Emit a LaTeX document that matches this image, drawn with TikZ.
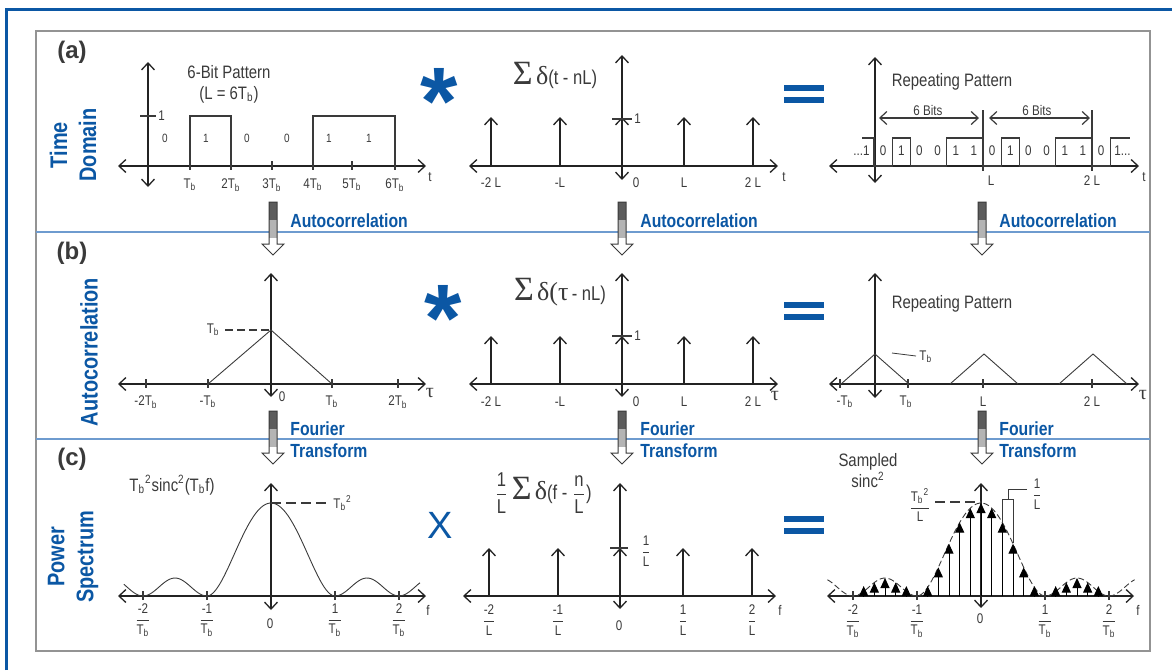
\documentclass[tikz,border=0pt]{standalone}
\usepackage{amsmath}
\usepackage{fontspec}
\setmainfont{Liberation Sans}[FakeStretch=0.83]
\newfontfamily\plainfont{Liberation Sans}
\newfontfamily\grk{Liberation Serif}
\usepackage{tikz}
\usetikzlibrary{arrows.meta}
\definecolor{hpblue}{HTML}{0B57A4}
\definecolor{ink}{HTML}{3A3A3A}
\definecolor{rulebl}{HTML}{6E9BCF}
\definecolor{shaftdk}{HTML}{5C5C5C}
\definecolor{shaftlt}{HTML}{B4B4B4}
\newcommand{\Tb}{T\textsubscript{b}}
\newcommand{\frc}[2]{$\dfrac{\text{#1}}{\text{#2}}$}
% hollow flow arrow: x centre, top
\newcommand{\flowarrow}[2]{%
  \fill[white] (#1-4,#2) -- (#1-4,#2+42) -- (#1-11,#2+42) -- (#1,#2+53) -- (#1+11,#2+42) -- (#1+4,#2+42) -- (#1+4,#2) -- cycle;
  \fill[shaftdk] (#1-4,#2) rectangle (#1+4,#2+18);
  \fill[shaftlt] (#1-4,#2+18) rectangle (#1+4,#2+36);
  \draw[ink, line width=0.5pt] (#1-4,#2) -- (#1-4,#2+42) -- (#1-11,#2+42) -- (#1,#2+53) -- (#1+11,#2+42) -- (#1+4,#2+42) -- (#1+4,#2) -- cycle;}

\begin{document}
\begin{tikzpicture}[x=0.5pt, y=-0.5pt,
  ax/.style={draw=ink!60!black, line width=0.65pt, {Straight Barb[length=3.5pt,width=6.5pt]}-{Straight Barb[length=3.5pt,width=6.5pt]}},
  spike/.style={draw=ink!60!black, line width=0.65pt, -{Straight Barb[length=3.5pt,width=6.5pt]}},
  samp/.style={draw=black, line width=0.5pt, -{Triangle[length=5pt,width=4.5pt]}},
  wave/.style={draw=ink, line width=0.6pt},
  ticklbl/.style={font=\fontsize{7}{8}\selectfont, text=ink, inner sep=1pt},
  bitlbl/.style={font=\fontsize{6}{7}\selectfont, text=ink, inner sep=1pt},
  ttl/.style={font=\fontsize{9}{10.5}\selectfont, text=ink, inner sep=1pt, align=center},
  sidelbl/.style={font=\fontsize{12}{14.5}\selectfont\bfseries, text=hpblue, rotate=90, align=center},
  panel/.style={font=\plainfont\fontsize{12}{14}\selectfont\bfseries, text=ink},
  flowlbl/.style={font=\fontsize{9.5}{11}\selectfont\bfseries, text=hpblue, anchor=west, align=left, inner sep=0pt},
  oplbl/.style={text=hpblue, inner sep=0pt},
  declare function={lobe(\u)=(abs(\u)<1) ? 93*(1-\u*\u)*(1-\u*\u) : 18*sin(180*\u)*sin(180*\u);}
]
\useasboundingbox (0,0) rectangle (1172,670);
% frames
\draw[hpblue, line width=1.5pt] (6,670) -- (6,9) -- (1172,9);
\draw[gray!85, line width=1pt] (36,31) rectangle (1150,651);
\draw[rulebl, line width=0.7pt] (36,232) -- (1150,232);
\draw[rulebl, line width=0.7pt] (36,439) -- (1150,439);
% row labels
\node[panel] (pa) at (72,52) {(a)};
\node[panel] (pb) at (72,253) {(b)};
\node[panel] (pc) at (72,459) {(c)};
\node[sidelbl] (sa) at (73,145) {Time\\Domain};
\node[sidelbl] (sb) at (89,352) {Autocorrelation};
\node[sidelbl] (sc) at (73,557) {Power\\Spectrum};
% operators
\node[oplbl, font=\plainfont\bfseries\fontsize{48}{48}\selectfont] (opa) at (439,101) {*};
\node[oplbl, font=\plainfont\bfseries\fontsize{48}{48}\selectfont] (opb) at (443,318) {*};
\node[oplbl, font=\plainfont\fontsize{19}{19}\selectfont] (opc) at (440,525) {X};
\foreach \y in {88,305,519} {
  \fill[hpblue] (784,\y-3) rectangle (824,\y+3);
  \fill[hpblue] (784,\y+9) rectangle (824,\y+15);
}
% flow arrows
\foreach \x/\lx in {273/290, 622/640, 982/999} {
  \flowarrow{\x}{202}
  \flowarrow{\x}{411}
  \node[flowlbl] (ac\x) at (\lx,221) {Autocorrelation};
  \node[flowlbl] (ft\x) at (\lx,440) {Fourier\\Transform};
}

% (a) 6-bit pattern
\draw[ax] (118,166) -- (426,166);
\draw[ax] (148,187) -- (148,62);
\draw[wave] (140,116) -- (156,116);
\node[ticklbl, anchor=west] (one1) at (156,116) {1};
\foreach \x/\l in {190/\Tb, 231/2\Tb, 272/3\Tb, 313/4\Tb, 352/5\Tb, 395/6\Tb} {
  \draw[wave] (\x,161) -- (\x,170);
  \node[ticklbl] (ta\x) at (\x,185) {\l};
}
\draw[wave] (190,166) -- (190,116) -- (231,116) -- (231,166);
\draw[wave] (313,166) -- (313,116) -- (395,116) -- (395,166);
\foreach \x/\b in {165/0, 206/1, 247/0, 287/0, 329/1, 369/1}
  \node[bitlbl] (ba\x) at (\x,138) {\b};
\node[ttl] (pat) at (229,84) {6-Bit Pattern\\(L = 6\Tb)};
\node[ticklbl] (ta) at (430,177) {t};

% (a) impulse train
\draw[ax] (469,166) -- (778,166);
\draw[ax] (622,180) -- (622,55);
\foreach \x in {491,560,622,684,753}
  \draw[spike] (\x,166) -- (\x,117);
\draw[wave] (612,119) -- (632,119);
\node[ticklbl, anchor=west] (one2) at (632,119) {1};
\foreach \x/\l in {491/-2 L, 560/-L, 684/L, 753/2 L}
  \node[ticklbl] (tm\x) at (\x,183) {\l};
\node[ticklbl] (tm0) at (636,183) {0};
\node[ticklbl] (tt) at (784,177) {t};
\node[ttl, font=\fontsize{10}{11}\selectfont] (suma) at (555,75) {{\grk\fontsize{17}{17}\selectfont Σ}\,{\grk\fontsize{13}{13}\selectfont δ}(t - nL)};

% (a) repeating pattern
\draw[ax] (829,166) -- (1139,166);
\draw[ax] (875,183) -- (875,57);
\draw[wave] (862,138) -- (874,138) -- (874,166)
  -- (892.2,166) -- (892.2,138) -- (910.3,138) -- (910.3,166)
  -- (946.7,166) -- (946.7,138) -- (983,138) -- (983,166)
  -- (1001.2,166) -- (1001.2,138) -- (1019.3,138) -- (1019.3,166)
  -- (1055.7,166) -- (1055.7,138) -- (1092,138) -- (1092,166)
  -- (1110.2,166) -- (1110.2,138) -- (1130,138);
\foreach \i/\b in {0/0,1/1,2/0,3/0,4/1,5/1,6/0,7/1,8/0,9/0,10/1,11/1,12/0}
  \node[bitlbl, font=\fontsize{7}{8}\selectfont] (br\i) at ({874+18.17*(\i+0.5)},151) {\b};
\node[bitlbl, font=\fontsize{7}{8}\selectfont, anchor=east] (brl) at (872,151) {...1};
\node[bitlbl, font=\fontsize{7}{8}\selectfont, anchor=west] (brr) at (1112,151) {1...};
\draw[wave] (983,110) -- (983,171);
\draw[wave] (1092,110) -- (1092,171);
\draw[wave, {Straight Barb[length=3.5pt,width=6.5pt]}-{Straight Barb[length=3.5pt,width=6.5pt]}] (879,118) -- (979,118);
\draw[wave, {Straight Barb[length=3.5pt,width=6.5pt]}-{Straight Barb[length=3.5pt,width=6.5pt]}] (989,118) -- (1090,118);
\node[ticklbl] (bits1) at (928,110) {6 Bits};
\node[ticklbl] (bits2) at (1037,110) {6 Bits};
\node[ticklbl] (tl1) at (991,181) {L};
\node[ticklbl] (tl2) at (1092,181) {2 L};
\node[ticklbl] (tr) at (1144,177) {t};
\node[ttl] (rep1) at (952,82) {Repeating Pattern};

% (b) triangle
\draw[ax] (118,384) -- (426,384);
\draw[ax] (271,397) -- (271,273);
\foreach \x/\l in {146/-2\Tb, 208/-\Tb, 332/\Tb, 398/2\Tb} {
  \draw[wave] (\x,379) -- (\x,388);
  \node[ticklbl] (tb\x) at (\x,402) {\l};
}
\node[ticklbl] (tb0) at (282,397) {0};
\draw[wave, line width=0.45pt] (208,384) -- (271,330) -- (332,384);
\draw[wave, dashed, dash pattern=on 4pt off 2pt] (225,330) -- (271,330);
\node[ticklbl, anchor=east] (tbh) at (222,330) {\Tb};
\node[ticklbl, font=\grk\fontsize{10}{10}\selectfont] (tau1) at (430,393) {τ};

% (b) impulse train
\draw[ax] (469,384) -- (778,384);
\draw[ax] (622,397) -- (622,273);
\foreach \x in {491,560,622,684,753}
  \draw[spike] (\x,384) -- (\x,336);
\draw[wave] (612,336) -- (632,336);
\node[ticklbl, anchor=west] (one3) at (632,336) {1};
\foreach \x/\l in {491/-2 L, 560/-L, 684/L, 753/2 L}
  \node[ticklbl] (tn\x) at (\x,402) {\l};
\node[ticklbl] (tn0) at (636,402) {0};
\node[ticklbl, font=\grk\fontsize{10}{10}\selectfont] (tau2) at (775,396) {τ};
\node[ttl, font=\fontsize{10}{11}\selectfont] (sumb) at (560,292) {{\grk\fontsize{17}{17}\selectfont Σ}\,{\grk\fontsize{13}{13}\selectfont δ(τ}\,- nL)};

% (b) repeating triangles
\draw[ax] (829,384) -- (1139,384);
\draw[ax] (875,398) -- (875,273);
\foreach \c in {875,984,1093}
  \draw[wave, line width=0.45pt] (\c-34,384) -- (\c,354) -- (\c+34,384);
\foreach \x in {840,908,983,1092}
  \draw[wave] (\x,379) -- (\x,388);
\node[ticklbl] (tc1) at (845,402) {-\Tb};
\node[ticklbl] (tc2) at (906,402) {\Tb};
\node[ticklbl] (tc3) at (983,402) {L};
\node[ticklbl] (tc4) at (1092,402) {2 L};
\draw[wave, line width=0.4pt] (892,353) -- (916,356);
\node[ticklbl, anchor=west] (tbr) at (917,357) {\Tb};
\node[ticklbl, font=\grk\fontsize{10}{10}\selectfont] (tau3) at (1143,395) {τ};
\node[ttl] (rep2) at (952,304) {Repeating Pattern};

% (c) sinc squared
\draw[ax] (118,596) -- (426,596);
\draw[ax] (271,610) -- (271,483);
\draw[wave, line width=0.45pt] plot[domain=-2.3:2.33, samples=140] ({271+64*\x}, {596-lobe(\x)});
\foreach \k/\n in {-2/-2, -1/-1, 1/1, 2/2} {
  \draw[wave] (271+64*\k,591) -- (271+64*\k,600);
  \node[ticklbl] (fl\n) at (271+64*\k,620) {\frc{\n}{\Tb}};
}
\node[ticklbl] (fl0) at (270,624) {0};
\draw[wave, dashed, dash pattern=on 5pt off 2.5pt] (271,503) -- (330,503);
\node[ticklbl, anchor=west] (pk) at (331,503) {\Tb\textsuperscript{2}};
\node[ttl] (sincl) at (172,485) {\Tb\textsuperscript{2}sinc\textsuperscript{2}(\Tb f)};
\node[ticklbl] (fa) at (428,610) {f};

% (c) impulse train
\draw[ax] (463,596) -- (776,596);
\draw[ax] (620,609) -- (620,483);
\foreach \x in {489,558,620,683,752}
  \draw[spike] (\x,596) -- (\x,548);
\draw[wave] (610,548) -- (628,548);
\node[ticklbl] (invl) at (646,551) {\frc{1}{L}};
\foreach \x/\n in {489/-2, 558/-1, 683/1, 752/2}
  \node[ticklbl] (fm\x) at (\x,620) {\frc{\n}{L}};
\node[ticklbl] (fm0) at (619,626) {0};
\node[ticklbl] (fb) at (780,610) {f};
\node[ttl, font=\fontsize{10}{11}\selectfont] (sumc) at (543,493) {\frc{1}{L}\,{\grk\fontsize{17}{17}\selectfont Σ}\,{\grk\fontsize{13}{13}\selectfont δ}(f - \frc{n}{L})};

% (c) sampled spectrum
\draw[ax] (827,596) -- (1134,596);
\draw[ax] (981,608) -- (981,483);
\draw[wave, line width=0.45pt, dash pattern=on 3pt off 1.5pt] plot[domain=-2.4:2.4, samples=140] ({981+64*\x}, {596-lobe(\x)});
\foreach \k in {-11,-10,-9,-8,-7,-5,-4,-3,-2,-1,0,1,2,3,4,5,7,8,9,10,11} {
  \pgfmathsetmacro{\hh}{max(lobe(\k/6),10)}
  \draw[samp] ({981+64*(\k)/6},596) -- ({981+64*(\k)/6},596-\hh);
}
\foreach \k/\n in {-2/-2, -1/-1, 1/1, 2/2} {
  \draw[wave] (981+64*\k,591) -- (981+64*\k,600);
  \node[ticklbl] (fr\n) at (981+64*\k,621) {\frc{\n}{\Tb}};
}
\node[ticklbl] (fr0) at (980,619) {0};
\node[ticklbl] (fc) at (1138,610) {f};
\draw[wave, dashed, dash pattern=on 5pt off 2.5pt] (935,502) -- (981,502);
\node[ticklbl] (pkr) at (920,505) {\frc{\Tb\textsuperscript{2}}{L}};
\draw[wave, line width=0.45pt] (1027,489) -- (1008,489) -- (1008,499);
\draw[wave, line width=0.45pt] (1002.3,522) -- (1002.3,499) -- (1013,499) -- (1013,543);
\node[ticklbl] (invr) at (1037,494) {\frc{1}{L}};
\node[ttl] (samp) at (868,471) {Sampled\\sinc\textsuperscript{2}};
\end{tikzpicture}
\end{document}
